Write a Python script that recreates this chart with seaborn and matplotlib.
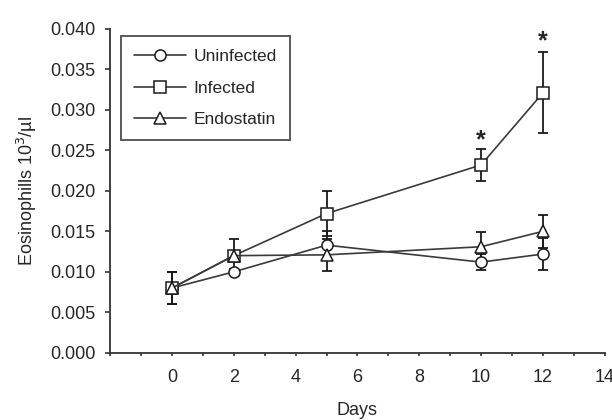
import numpy as np
import pandas as pd
import seaborn as sns
import matplotlib
matplotlib.use("Agg")
import matplotlib.pyplot as plt
from matplotlib.ticker import MultipleLocator, FixedLocator

days = [0, 2, 5, 10, 12]
uninfected = [0.008, 0.010, 0.0133, 0.0112, 0.0122]
uninfected_err = [0.002, 0.0003, 0.0018, 0.001, 0.002]
infected = [0.008, 0.012, 0.0172, 0.0232, 0.0321]
infected_err = [0.002, 0.002, 0.0028, 0.002, 0.005]
endostatin = [0.008, 0.012, 0.0121, 0.0131, 0.0150]
endostatin_err = [0.002, 0.0005, 0.002, 0.0018, 0.002]
groups = ["Uninfected", "Infected", "Endostatin"]
star_days = [10, 12]
star_y = [0.0262, 0.0385]

sns.set_style("ticks")
plt.rcParams["font.family"] = ["Liberation Sans", "DejaVu Sans"]

df = pd.DataFrame({
    "Days": days * 3,
    "value": uninfected + infected + endostatin,
    "err": uninfected_err + infected_err + endostatin_err,
    "group": [g for g in groups for _ in days],
})

fig = plt.figure(figsize=(6.12, 4.2), dpi=100)
ax = fig.add_axes([0.18, 0.16, 0.808, 0.771])

markers = {"Uninfected": "o", "Infected": "s", "Endostatin": "^"}
line_color = "#3a3a3a"
for g in groups:
    sub = df[df["group"] == g]
    ax.errorbar(sub["Days"], sub["value"], yerr=sub["err"], fmt="none",
                ecolor="#1a1a1a", elinewidth=1.3, capsize=3.5, capthick=1.3, zorder=2)
sns.lineplot(data=df, x="Days", y="value", hue="group", style="group",
             hue_order=groups, style_order=groups,
             palette={g: line_color for g in groups},
             markers=markers, dashes=False, markersize=8,
             markerfacecolor="white", markeredgecolor="#1a1a1a", markeredgewidth=1.1,
             linewidth=1.2, ax=ax, zorder=3, legend=True)

for x, y in zip(star_days, star_y):
    ax.text(x, y, "*", ha="center", va="center", fontsize=18, fontweight="bold")

ax.set_xlim(-2, 14)
ax.set_ylim(0, 0.040)
ax.xaxis.set_major_locator(FixedLocator([0, 2, 4, 6, 8, 10, 12, 14]))
ax.xaxis.set_minor_locator(FixedLocator([-2, -1, 1, 3, 5, 7, 9, 11, 13]))
ax.yaxis.set_major_locator(MultipleLocator(0.005))
ax.yaxis.set_major_formatter(matplotlib.ticker.FormatStrFormatter("%.3f"))
ax.tick_params(axis="both", which="major", labelsize=13, width=1.2, color="#333333")
ax.tick_params(axis="x", which="major", length=2.5, pad=9)
ax.tick_params(axis="y", which="major", length=3.5, pad=7)
ax.tick_params(axis="x", which="minor", length=2.5, width=1.2, color="#333333")
for s in ["left", "bottom"]:
    ax.spines[s].set_linewidth(1.3)
    ax.spines[s].set_color("#333333")
sns.despine(ax=ax)

ax.set_xlabel("Days", fontsize=13, labelpad=12)
ax.set_ylabel("Eosinophills 10$^3$/µl", fontsize=13, labelpad=8)

handles, labels = ax.get_legend_handles_labels()
leg = ax.legend(handles, labels, loc="upper left", bbox_to_anchor=(0.012, 0.995),
                fontsize=12.5, frameon=True, fancybox=False, edgecolor="#222222",
                handlelength=3.0, borderpad=0.75, labelspacing=0.95, handletextpad=0.4,
                borderaxespad=0.3)
leg.get_frame().set_linewidth(1.3)

fig.savefig("out.png", dpi=100)
